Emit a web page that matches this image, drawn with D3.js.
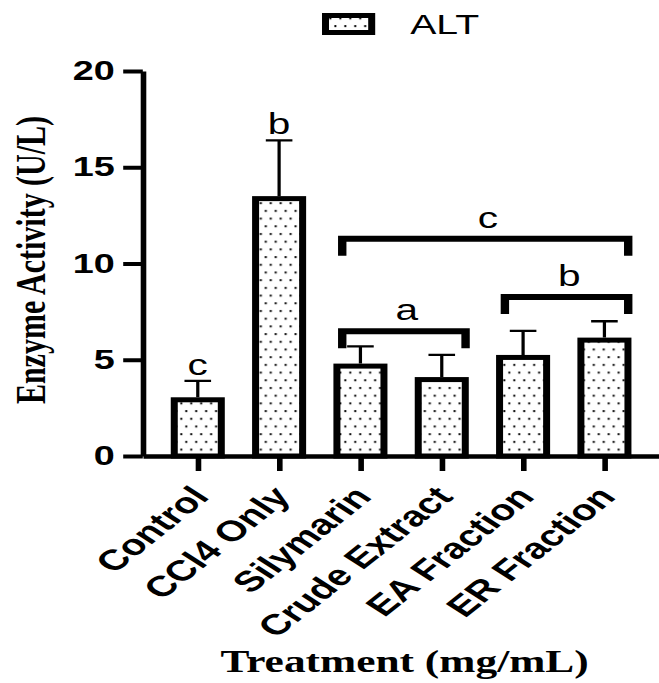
<!DOCTYPE html>
<html>
<head>
    <meta charset="utf-8">
    <script src="https://cdn.jsdelivr.net/npm/d3@7"></script>
    <style>
        body { margin: 0; background: white; }
        text { fill: black; }
        .sans { font-family: "Liberation Sans", Arial, sans-serif; }
        .serif { font-family: "Liberation Serif", "Times New Roman", serif; font-weight: bold; }
    </style>
</head>
<body>
<script>
    // data
    var categories = ["Control", "CCl4 Only", "Silymarin", "Crude Extract", "EA Fraction", "ER Fraction"];
    var means = [3.05, 13.5, 4.8, 4.1, 5.25, 6.15];
    var errors = [0.85, 2.9, 0.9, 1.15, 1.25, 0.85];
    var barLetters = ["c", "b", "", "", "", ""];
    var yTicks = [0, 5, 10, 15, 20];
    var brackets = [
        { from: "Silymarin", to: "ER Fraction", level: 11.28, label: "c" },
        { from: "EA Fraction", to: "ER Fraction", level: 8.26, label: "b" },
        { from: "Silymarin", to: "Crude Extract", level: 6.48, label: "a" }
    ];

    var W = 659, H = 683;
    var SX = 1.4; // the original picture is stretched sideways

    var svg = d3.select("body").append("svg")
        .attr("width", W)
        .attr("height", H);

    var defs = svg.append("defs");
    var pat = defs.append("pattern")
        .attr("id", "dots")
        .attr("patternUnits", "userSpaceOnUse")
        .attr("width", 7.1)
        .attr("height", 15.4);
    pat.append("rect").attr("width", 7.1).attr("height", 15.4).attr("fill", "white");
    pat.append("rect").attr("x", 1).attr("y", 2).attr("width", 1.4).attr("height", 2).attr("fill", "black");
    pat.append("rect").attr("x", 4.55).attr("y", 9.7).attr("width", 1.4).attr("height", 2).attr("fill", "black");

    var g = svg.append("g").attr("transform", "scale(" + SX + ",1)");

    var x = d3.scalePoint().domain(categories).range([102, 471]).padding(0.676);
    var y = d3.scaleLinear().domain([0, 20]).range([456, 71]);

    var barW = 38.6, sw = 5;

    // error bars
    g.selectAll(".err")
        .data(categories)
        .enter().append("path")
        .attr("d", function (c, i) {
            var cx = x(c), y1 = y(means[i] + errors[i]);
            return "M" + cx + "," + y(means[i]) + "V" + y1 + "M" + (cx - 9.5) + "," + y1 + "H" + (cx + 9.5);
        })
        .attr("stroke", "black")
        .attr("stroke-width", 2.3)
        .attr("fill", "none");

    // bars
    g.selectAll(".bar")
        .data(categories)
        .enter().append("rect")
        .attr("x", function (c) { return x(c) - barW / 2 + sw / 2; })
        .attr("y", function (c, i) { return y(means[i]) + sw / 2; })
        .attr("width", barW - sw)
        .attr("height", function (c, i) { return y(0) - y(means[i]) - sw / 2; })
        .attr("fill", "url(#dots)")
        .attr("stroke", "black")
        .attr("stroke-width", sw);

    // letters over single bars
    g.selectAll(".let")
        .data(categories)
        .enter().append("text")
        .attr("class", "sans")
        .attr("x", function (c) { return x(c); })
        .attr("y", function (c, i) { return y(means[i] + errors[i]) - 6; })
        .attr("text-anchor", "middle")
        .style("font-size", "29px")
        .text(function (c, i) { return barLetters[i]; });

    // brackets
    brackets.forEach(function (b) {
        var x0 = x(b.from) - 13, x1 = x(b.to) + 17, yy = y(b.level);
        g.append("path")
            .attr("d", "M" + x0 + "," + (yy + 17) + "V" + yy + "H" + x1 + "V" + (yy + 17))
            .attr("stroke", "black")
            .attr("stroke-width", 6)
            .attr("fill", "none");
        g.append("text")
            .attr("class", "sans")
            .attr("x", (x0 + x1) / 2 + 2)
            .attr("y", yy - 11)
            .attr("text-anchor", "middle")
            .style("font-size", "29px")
            .text(b.label);
    });

    // y axis
    var yAxis = g.append("g")
        .attr("transform", "translate(102,0)")
        .call(d3.axisLeft(y).tickValues(yTicks).tickSize(14).tickSizeOuter(0).tickPadding(6));
    yAxis.select(".domain").attr("stroke-width", 4);
    yAxis.selectAll(".tick line").attr("stroke-width", 4);
    yAxis.selectAll(".tick text")
        .attr("class", "sans")
        .style("font-size", "27px")
        .style("font-weight", "bold");

    // x axis
    var xAxis = g.append("g")
        .attr("transform", "translate(0," + y(0) + ")")
        .call(d3.axisBottom(x).tickSize(15).tickSizeOuter(0));
    xAxis.select(".domain").attr("stroke-width", 4.5);
    xAxis.selectAll(".tick line").attr("stroke-width", 4);
    xAxis.selectAll(".tick text")
        .attr("class", "sans")
        .attr("x", 0)
        .attr("y", 0)
        .attr("dy", "0.35em")
        .attr("transform", "translate(1,35) rotate(-48)")
        .attr("text-anchor", "end")
        .style("font-size", "29px")
        .style("font-weight", "bold");
    g.selectAll(".domain, .tick line").attr("stroke", "black");

    // axis titles
    g.append("text")
        .attr("class", "serif")
        .attr("transform", "translate(21.4,260) rotate(-90)")
        .attr("text-anchor", "middle")
        .attr("dy", "0.35em")
        .style("font-size", "30px")
        .text("Enzyme Activity (U/L)");

    g.append("text")
        .attr("class", "serif")
        .attr("x", 289)
        .attr("y", 672)
        .attr("text-anchor", "middle")
        .style("font-size", "31px")
        .text("Treatment (mg/mL)");

    // legend
    g.append("rect")
        .attr("x", 232.5)
        .attr("y", 15.5)
        .attr("width", 33)
        .attr("height", 17)
        .attr("fill", "url(#dots)")
        .attr("stroke", "black")
        .attr("stroke-width", 5);
    g.append("text")
        .attr("class", "sans")
        .attr("x", 293)
        .attr("y", 34)
        .style("font-size", "28px")
        .text("ALT");
</script>
</body>
</html>
